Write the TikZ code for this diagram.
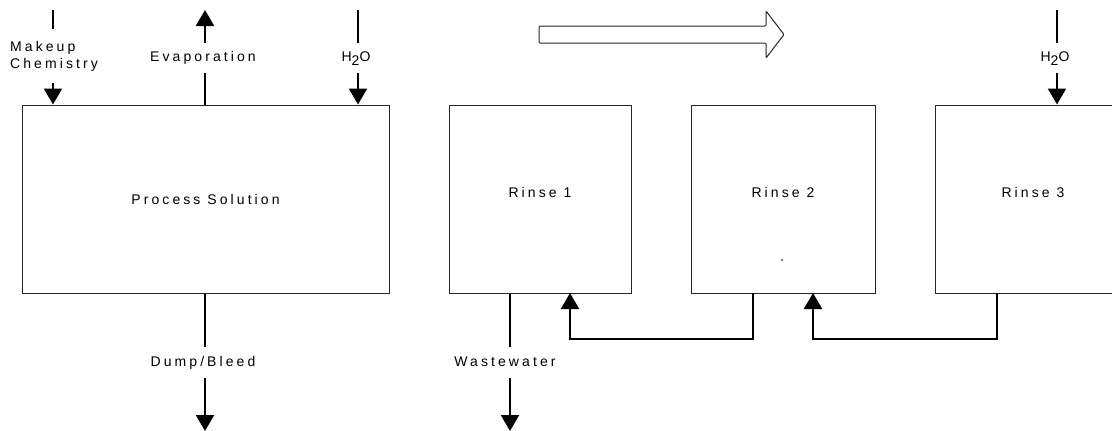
\documentclass[tikz,border=0pt]{standalone}
\usepackage{fontspec}
\setmainfont{Liberation Sans}[LetterSpace=22]
\usepackage{tikz}
\usetikzlibrary{arrows.meta,positioning}

\begin{document}
\begin{tikzpicture}[x=1pt, y=-1pt,
                tank/.style={draw=black!85, line width=1pt, minimum height=188pt, inner sep=0pt},
                pipe/.style={line width=2.2pt},
                flow/.style={pipe, -{Triangle[width=18pt, length=16pt]}},
                tag/.style={inner ysep=8pt, inner xsep=0pt, text height=10pt, text depth=3pt},
                node distance=59pt,
                every node/.style={font=\fontsize{14}{17}\selectfont}
            ]

            \useasboundingbox (0,0) rectangle (1112,431);

            \node[tank, minimum width=367pt] (proc) at (205.5,199) {};
            \node[tank, minimum width=182pt, right=of proc] (rinse1) {};
            \node[tank, minimum width=184pt, right=of rinse1] (rinse2) {};
            \node[tank, minimum width=196pt, right=of rinse2] (rinse3) {};

            \node at (proc.center) {Process Solution};
            \node at ([yshift=7pt]rinse1.center) {Rinse 1};
            \node at ([yshift=7pt]rinse2.center) {Rinse 2};
            \node at ([yshift=7pt]rinse3.center) {Rinse 3};
            \fill (782,260) circle (0.9pt);

            % inputs and outputs of the process tank
            \node[align=left, anchor=west, inner ysep=11.5pt, inner xsep=0pt] (makeup) at (10,56) {Makeup\\Chemistry};
            \node[tag] (evap) at (203,58) {Evaporation};
            \node[tag] (water1) at (356,58) {H\raisebox{-4pt}{2}O};
            \node[tag, inner ysep=9pt] (dump) at (203,362.5) {Dump/Bleed};

            \coordinate (mkin) at (53,10);
            \coordinate (evapout) at (205,10);
            \coordinate (water1in) at (358,10);
            \coordinate (dumpout) at (205,431);

            \draw[pipe] (mkin) -- (mkin |- makeup.north);
            \draw[flow] (mkin |- makeup.south) -- (mkin |- proc.north);
            \draw[pipe] (evapout |- proc.north) -- (evapout |- evap.south);
            \draw[flow] (evapout |- evap.north) -- (evapout);
            \draw[pipe] (water1in) -- (water1in |- water1.north);
            \draw[flow] (water1in |- water1.south) -- (water1in |- proc.north);
            \draw[pipe] (dumpout |- proc.south) -- (dumpout |- dump.north);
            \draw[flow] (dumpout |- dump.south) -- (dumpout);

            % rinse train
            \node[tag, inner ysep=9pt] (waste) at (505,362.5) {Wastewater};
            \node[tag] (water2) at (1055,58) {H\raisebox{-4pt}{2}O};

            \coordinate (wasteout) at (510,431);
            \coordinate (water2in) at (1057,10);

            \draw[pipe] (wasteout |- rinse1.south) -- (wasteout |- waste.north);
            \draw[flow] (wasteout |- waste.south) -- (wasteout);
            \draw[pipe] (water2in) -- (water2in |- water2.north);
            \draw[flow] (water2in |- water2.south) -- (water2in |- rinse3.north);

            \draw[flow] (753,293) |- (570,339) -- (570,293);
            \draw[flow] (997,293) |- (813,339) -- (813,293);

            % direction of work
            \draw[black!85, line width=1pt, rounded corners=1pt] (539,26) -- (766,26) -- (766,11) -- (784,34.5)
                -- (766,58) -- (766,43) -- (539,43) -- cycle;

        \end{tikzpicture}
\end{document}
